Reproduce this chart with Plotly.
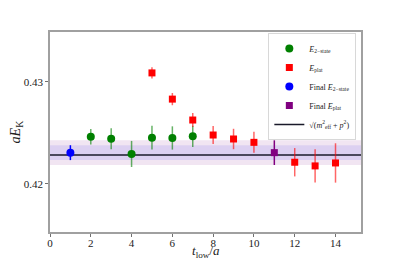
import plotly.graph_objects as go

# ---- data ----
t_2state = [2, 3, 4, 5, 6, 7]
E_2state = [0.42462, 0.42443, 0.42293, 0.42453, 0.42450, 0.42466]
err_2state = [0.00075, 0.00103, 0.00128, 0.00117, 0.00114, 0.00104]

t_plat = [5, 6, 7, 8, 9, 10, 12, 13, 14]
E_plat = [0.43088, 0.42831, 0.42626, 0.42479, 0.42440, 0.42407, 0.42212, 0.42176, 0.42205]
err_plat = [0.00055, 0.00060, 0.00068, 0.00088, 0.00100, 0.00103, 0.00139, 0.00163, 0.00193]

t_final_2state = [1]
E_final_2state = [0.42306]
err_final_2state = [0.00073]

t_final_plat = [11]
E_final_plat = [0.42306]
err_final_plat = [0.00121]

E_disp = 0.42283  # sqrt(m_eff^2 + p^2)

x_lim = [0, 15.25]
y_lim = [0.41528, 0.43489]
x_ticks = [0, 2, 4, 6, 8, 10, 12, 14]
y_ticks = [0.42, 0.43]

font_family = "Liberation Serif, DejaVu Serif, serif"

fig = go.Figure()

# outer band (final plateau error)
fig.add_trace(go.Scatter(x=x_lim, y=[E_final_plat[0] - err_final_plat[0]] * 2,
                         mode="lines", line=dict(width=0), showlegend=False, hoverinfo="skip"))
fig.add_trace(go.Scatter(x=x_lim, y=[E_final_plat[0] + err_final_plat[0]] * 2,
                         mode="lines", line=dict(width=0), fill="tonexty",
                         fillcolor="#f1e5f2", showlegend=False, hoverinfo="skip"))
# inner band (final 2-state error)
fig.add_trace(go.Scatter(x=x_lim, y=[E_final_2state[0] - err_final_2state[0]] * 2,
                         mode="lines", line=dict(width=0), showlegend=False, hoverinfo="skip"))
fig.add_trace(go.Scatter(x=x_lim, y=[E_final_2state[0] + err_final_2state[0]] * 2,
                         mode="lines", line=dict(width=0), fill="tonexty",
                         fillcolor="#dcd0f1", showlegend=False, hoverinfo="skip"))

# dispersion line
fig.add_trace(go.Scatter(x=x_lim, y=[E_disp] * 2, mode="lines",
                         line=dict(color="#1a1a2a", width=1.3),
                         name="√(<i>m</i><sup>2</sup><sub>eff</sub> + <i>p</i><sup>2</sup>)",
                         legendrank=5))

fig.add_trace(go.Scatter(x=t_2state, y=E_2state, mode="markers",
                         marker=dict(symbol="circle", size=8, color="green"),
                         error_y=dict(type="data", array=err_2state, thickness=1.5, width=0,
                                      color="rgba(0,128,0,0.6)"),
                         name="<i>E</i><sub>2−state</sub>", legendrank=1))
fig.add_trace(go.Scatter(x=t_plat, y=E_plat, mode="markers",
                         marker=dict(symbol="square", size=7, color="red"),
                         error_y=dict(type="data", array=err_plat, thickness=1.5, width=0,
                                      color="rgba(255,0,0,0.6)"),
                         name="<i>E</i><sub>plat</sub>", legendrank=2))
fig.add_trace(go.Scatter(x=t_final_2state, y=E_final_2state, mode="markers",
                         marker=dict(symbol="circle", size=8, color="blue"),
                         error_y=dict(type="data", array=err_final_2state, thickness=1.5, width=0,
                                      color="blue"),
                         name="Final <i>E</i><sub>2−state</sub>", legendrank=3))
fig.add_trace(go.Scatter(x=t_final_plat, y=E_final_plat, mode="markers",
                         marker=dict(symbol="square", size=7, color="purple"),
                         error_y=dict(type="data", array=err_final_plat, thickness=1.5, width=0,
                                      color="purple"),
                         name="Final <i>E</i><sub>plat</sub>", legendrank=4))

axis_common = dict(showline=True, linecolor="#a0a0a0", linewidth=1.5, mirror=True,
                   showgrid=False, zeroline=False, ticks="outside", ticklen=3,
                   tickcolor="#707070", tickwidth=1, automargin=False,
                   tickfont=dict(family=font_family, size=11, color="#222"))

fig.update_layout(
    width=400, height=262,
    margin=dict(l=50, r=39, t=32, b=30),
    paper_bgcolor="white", plot_bgcolor="white",
    font=dict(family=font_family, color="#222"),
    xaxis=dict(range=x_lim, tickvals=x_ticks, ticklabelstandoff=-3, **axis_common),
    yaxis=dict(range=y_lim, tickvals=y_ticks, tickformat=".2f", **axis_common),
    legend=dict(x=0.985, y=0.995, xanchor="right", yanchor="top",
                bgcolor="white", bordercolor="#d8d8d8", borderwidth=1,
                font=dict(family=font_family, size=8), tracegroupgap=0,
                traceorder="normal", itemwidth=30),
    showlegend=True,
    annotations=[
        dict(text="<i>t</i><sub>low</sub>/<i>a</i>", xref="paper", yref="paper",
             x=0.5, y=-0.095, xanchor="center", yanchor="middle", showarrow=False,
             font=dict(family=font_family, size=13, color="#222")),
        dict(text="<i>aE</i><sub>K</sub>", xref="paper", yref="paper",
             x=-0.108, y=0.5, xanchor="center", yanchor="middle", showarrow=False,
             textangle=-90, font=dict(family=font_family, size=14, color="#222")),
    ],
)

fig.write_html("out.html", config={"displayModeBar": False},
               post_script="document.body.style.margin='0';")
